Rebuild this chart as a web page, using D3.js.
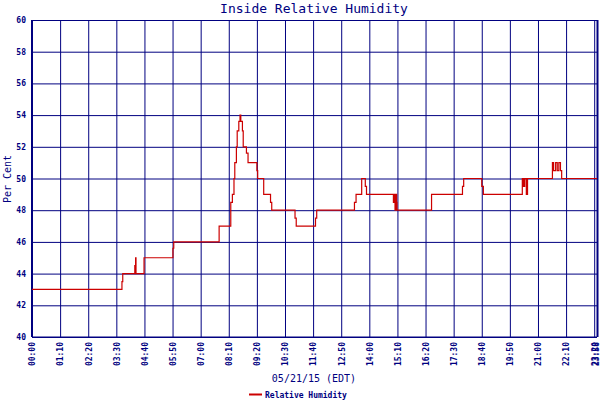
<!DOCTYPE html>
<html>
<head>
<meta charset="utf-8">
<script src="https://cdn.jsdelivr.net/npm/d3@7"></script>
<style>
  body { margin: 0; background: #fff; }
  text { font-family: "DejaVu Sans Mono", monospace; fill: #000080; }
</style>
</head>
<body>
<script>
// step changes of the humidity reading, value holds until the next time
const times = ["00:00","03:44","03:46","04:16","04:18","04:19","04:39","05:51","05:53","07:46",
  "08:15","08:19","08:23","08:25","08:29","08:31","08:35","08:38","08:40","08:44","08:46",
  "08:54","08:58","09:20","09:22","09:37","09:54","09:57","10:55","10:58","11:46","11:49",
  "13:23","13:27","13:41","13:50","13:53","15:00","15:02","15:04","15:07","15:08","15:09",
  "16:35","17:52","17:55","18:40","18:44","20:21","20:24","20:27","20:31","20:34","20:36",
  "21:36","21:39","21:44","21:48","21:52","21:56","21:59","23:27"];
const humidity = [43,43.5,44,44.5,45,44,45,45.6,46,47,
  48.5,49,50,51,52,53,53.6,54,53.6,53,52,
  51.6,51,50.5,50,49,48.5,48,47.5,47,47.5,48,
  48.5,49,50,49.5,49,48.5,49,48,49,48.5,48,
  49,49.5,50,49.5,49,50,49.5,50,49,50,50,
  51,50.5,51,50.5,51,50.5,50,50];

const xTickLabels = ["00:00","01:10","02:20","03:30","04:40","05:50","07:00","08:10","09:20",
  "10:30","11:40","12:50","14:00","15:10","16:20","17:30","18:40","19:50","21:00","22:10","23:20","23:58"];
const yTicks = [40,42,44,46,48,50,52,54,56,58,60];

const title = "Inside Relative Humidity";
const xTitle = "05/21/15 (EDT)";
const yTitle = "Per Cent";
const seriesName = "Relative Humidity";

const width = 600, height = 400;
const plotLeft = 32, plotRight = 597, plotTop = 20, plotBottom = 337;
const navy = "#000080", red = "#cc0000";

const toMin = s => { const [h, m] = s.split(":").map(Number); return h * 60 + m; };
const data = times.map((t, i) => ({ t: toMin(t), v: humidity[i] }));
const endMin = toMin(times[times.length - 1]);

const x = d3.scaleLinear([0, endMin], [plotLeft, plotRight]);
const y = d3.scaleLinear([40, 60], [plotBottom, plotTop]);

// tick positions every 70 minutes, the last label sits at the end of the day's data
const tickPos = xTickLabels.map((s, i) => i === xTickLabels.length - 1 ? endMin : i * 70);

const svg = d3.select("body").append("svg")
    .attr("width", width)
    .attr("height", height)
    .attr("viewBox", [0, 0, width, height]);

svg.append("text")
    .attr("x", 314).attr("y", 13)
    .attr("text-anchor", "middle")
    .attr("font-size", 13)
    .text(title);

// horizontal grid + y labels
svg.append("g")
    .attr("transform", `translate(${plotLeft},0)`)
    .call(d3.axisLeft(y).tickValues(yTicks).tickSize(-(plotRight - plotLeft)).tickPadding(6).tickFormat(d3.format("d")))
    .call(g => g.select(".domain").remove())
    .call(g => g.selectAll(".tick line").attr("stroke", navy).attr("stroke-width", 1))
    .call(g => g.selectAll(".tick text")
        .attr("font-size", 8).attr("font-weight", "bold")
        .attr("font-family", "DejaVu Sans Mono").attr("fill", navy));

// vertical grid + rotated x labels
const xAxis = svg.append("g")
    .attr("transform", `translate(0,${plotBottom})`)
    .call(d3.axisBottom(x).tickValues(tickPos).tickSize(-(plotBottom - plotTop)).tickFormat((d, i) => xTickLabels[i]))
    .call(g => g.select(".domain").remove())
    .call(g => g.selectAll(".tick line").attr("stroke", navy).attr("stroke-width", 1));

xAxis.selectAll(".tick text")
    .attr("font-size", 8).attr("font-weight", "bold")
    .attr("font-family", "DejaVu Sans Mono").attr("fill", navy)
    .attr("text-anchor", "end")
    .attr("transform", (d, i) => i === xTickLabels.length - 1 ? "translate(-1,5) rotate(-90)" : "translate(0,5) rotate(-90)")
    .attr("x", 0).attr("y", 0).attr("dy", "0.35em");

// frame edges
svg.append("line").attr("x1", plotLeft).attr("x2", plotLeft).attr("y1", plotTop).attr("y2", plotBottom)
    .attr("stroke", navy).attr("stroke-width", 2);
svg.append("line").attr("x1", plotLeft).attr("x2", plotRight).attr("y1", plotBottom).attr("y2", plotBottom)
    .attr("stroke", navy).attr("stroke-width", 1);
svg.append("line").attr("x1", plotRight + 0.5).attr("x2", plotRight + 0.5).attr("y1", plotTop).attr("y2", plotBottom)
    .attr("stroke", navy).attr("stroke-width", 2);

const line = d3.line()
    .x(d => x(d.t))
    .y(d => y(d.v))
    .curve(d3.curveStepAfter);

svg.append("path")
    .datum(data)
    .attr("fill", "none")
    .attr("stroke", red)
    .attr("stroke-width", 1.2)
    .attr("d", line);

svg.append("text")
    .attr("x", 314).attr("y", 382)
    .attr("text-anchor", "middle")
    .attr("font-size", 10)
    .text(xTitle);

svg.append("text")
    .attr("transform", "translate(11,179) rotate(-90)")
    .attr("text-anchor", "middle")
    .attr("font-size", 10)
    .text(yTitle);

// legend
svg.append("line").attr("x1", 249).attr("x2", 262).attr("y1", 394.5).attr("y2", 394.5)
    .attr("stroke", red).attr("stroke-width", 2);
svg.append("text")
    .attr("x", 265).attr("y", 397.5)
    .attr("font-size", 8).attr("font-weight", "bold")
    .text(seriesName);
</script>
</body>
</html>
